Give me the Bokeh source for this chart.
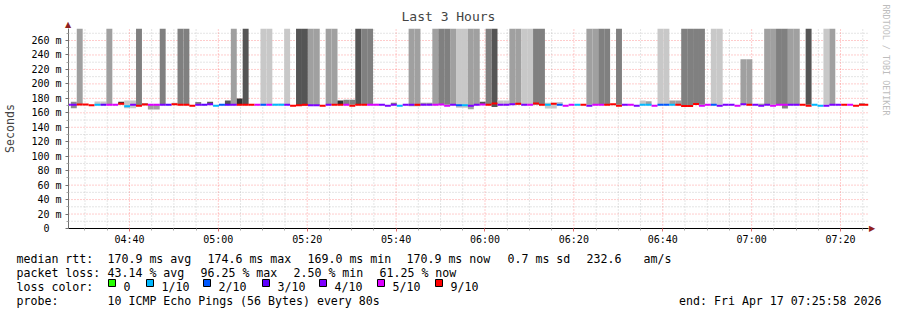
from bokeh.plotting import figure
from bokeh.models import Range1d, FixedTicker, Title, ColumnDataSource
from bokeh.layouts import column
from bokeh.core.properties import value
from bokeh.embed import file_html
from bokeh.resources import INLINE

# ---------------- data ----------------
STEP_START = 25.483        # left edge of first 80 s step (minutes after 04:00)
STEP_LEN = 80 / 60.0
WINDOW_START = 26.29       # graph window, minutes after 04:00
WINDOW_END = 206.29
GRAPH_TOP = 276.6          # upper limit of the graph (ms)

MEDIAN = [171.2, 171.0, 171.4, 171.6, 170.4, 171.0, 171.0, 171.0, 171.0, 172.4,
          169.2, 171.0, 169.6, 171.6, 171.0, 171.0, 171.0, 171.0, 172.0, 171.0,
          171.0, 169.6, 171.0, 171.0, 172.0, 169.8, 171.0, 171.0, 171.0, 171.0,
          171.0, 171.0, 171.0, 171.0, 171.0, 171.0, 171.0, 171.0, 169.8, 170.6,
          171.0, 170.6, 170.6, 169.8, 171.0, 171.0, 171.0, 171.0, 169.8, 171.0,
          171.0, 171.0, 171.0, 171.0, 169.8, 171.0, 169.8, 171.0, 171.0, 171.0,
          171.0, 171.0, 171.0, 171.6, 169.8, 171.0, 170.4, 170.4, 169.8, 171.0,
          171.6, 171.0, 173.0, 171.0, 171.0, 172.0, 172.6, 171.0, 171.0, 173.0,
          171.0, 171.0, 172.6, 171.0, 169.8, 171.0, 171.0, 171.0, 169.8, 171.0,
          171.0, 171.0, 172.0, 169.8, 171.0, 171.0, 169.8, 171.0, 171.0, 169.8,
          171.0, 171.0, 171.0, 171.0, 169.3, 169.3, 172.2, 169.8, 171.0, 171.0,
          169.8, 171.0, 171.0, 169.8, 172.0, 171.0, 171.0, 169.8, 171.0, 169.8,
          171.0, 171.0, 171.0, 171.0, 171.0, 169.8, 171.0, 169.8, 169.8, 171.0,
          171.0, 171.0, 171.0, 169.8, 171.0, 171.0]

LOSS = [4, 4, 9, 9, 9, 1, 3, 5, 5, 9,
        1, 4, 9, 9, 5, 5, 4, 3, 9, 9,
        9, 9, 4, 3, 4, 1, 2, 3, 4, 9,
        9, 9, 5, 2, 5, 1, 1, 4, 9, 9,
        9, 4, 4, 9, 4, 9, 9, 5, 9, 9,
        9, 5, 5, 4, 4, 4, 1, 4, 4, 9,
        4, 4, 5, 5, 5, 4, 2, 1, 4, 4,
        5, 9, 9, 4, 4, 4, 9, 4, 5, 9,
        9, 1, 9, 2, 5, 5, 1, 9, 4, 5,
        5, 9, 9, 9, 4, 5, 4, 1, 1, 5,
        2, 2, 1, 9, 9, 9, 9, 5, 5, 2,
        4, 4, 4, 5, 4, 9, 4, 4, 4, 5,
        5, 5, 4, 4, 9, 9, 1, 1, 4, 4,
        4, 9, 5, 9, 9, 9]

T = 400.0  # pings far above the graph's top
SMOKE_LO = [None, 166.4, 171.0, None, None, 171.0, 171.0, 171.0, None, 172.0,
            166.4, 166.4, 169.6, 171.0, 164.6, 164.6, 171.0, 171.0, 171.0, 171.0,
            171.0, None, 171.0, None, 171.0, None, None, 171.0, 171.0, 171.0,
            171.0, None, None, 171.0, 171.0, 171.0, 171.0, 171.0, None, 170.0,
            170.0, 170.0, 170.0, None, 171.0, 171.0, 171.0, 171.0, 171.0, 171.0,
            171.0, 171.0, 171.0, None, None, 171.0, None, None, 169.0, 169.0,
            171.0, 171.0, 171.0, 171.0, 171.0, 171.0, 167.0, 167.0, 165.0, 171.0,
            171.0, 171.0, 168.0, 171.0, 171.0, 171.0, 171.0, 171.0, 171.0, 171.0,
            171.0, 166.0, 166.0, 171.0, None, None, None, None, 171.0, 171.0,
            171.0, 171.0, None, 171.0, None, None, None, 171.0, 171.0, None,
            171.0, 171.0, 171.0, 171.0, 168.0, 168.0, 171.0, 171.0, None, 171.0,
            171.0, None, None, None, 171.0, 171.0, None, 171.0, 171.0, 171.0,
            171.0, 166.0, 171.0, 171.0, None, 171.0, None, None, 171.0, 171.0,
            None, None, None, None, 171.0, None]

SMOKE_HI = [None, 175.2, T, None, None, 175.5, 175.5, T, None, 175.2,
            177.0, 177.0, T, 173.0, 171.0, 171.0, T, 172.0, 174.0, T,
            T, None, 175.0, None, 175.2, None, None, 177.0, T, 179.8,
            T, None, None, T, T, 172.5, 172.5, T, None, T,
            T, T, T, None, T, T, 177.0, 178.0, 178.0, T,
            T, T, 172.5, None, None, 174.0, None, None, T, T,
            174.0, 174.0, T, T, T, T, T, T, T, T,
            175.2, T, T, 177.0, 177.0, T, T, T, T, T,
            T, 174.0, 174.0, 175.0, None, None, None, None, T, T,
            T, T, None, T, None, None, None, 177.0, 176.0, None,
            T, T, 177.0, 177.0, T, T, T, T, None, T,
            T, None, None, None, 234.0, 234.0, None, 172.5, T, T,
            T, T, T, T, None, T, None, None, T, T,
            None, None, None, None, 173.0, None]

SMOKE_SHADE = [None, "#8c8c8c", "#a0a0a0", None, None, "#c8c8c8", "#c8c8c8", "#a0a0a0", None, "#333333",
               "#c8c8c8", "#c8c8c8", "#808080", "#555555", "#a0a0a0", "#a0a0a0", "#808080", "#a0a0a0", "#c8c8c8", "#808080",
               "#808080", None, "#808080", None, "#555555", None, None, "#555555", "#a0a0a0", "#333333",
               "#555555", None, None, "#c8c8c8", "#c8c8c8", "#c8c8c8", "#a0a0a0", "#c8c8c8", None, "#555555",
               "#555555", "#a0a0a0", "#a0a0a0", None, "#a0a0a0", "#a0a0a0", "#333333", "#808080", "#808080", "#555555",
               "#808080", "#808080", "#c8c8c8", None, None, "#808080", None, None, "#a0a0a0", "#a0a0a0",
               "#a0a0a0", "#a0a0a0", "#a0a0a0", "#808080", "#808080", "#a0a0a0", "#c8c8c8", "#c8c8c8", "#a0a0a0", "#a0a0a0",
               "#555555", "#808080", "#555555", "#c8c8c8", "#c8c8c8", "#a0a0a0", "#a0a0a0", "#c8c8c8", "#c8c8c8", "#808080",
               "#808080", "#c8c8c8", "#c8c8c8", "#c8c8c8", None, None, None, None, "#a0a0a0", "#a0a0a0",
               "#808080", "#808080", None, "#808080", None, None, None, "#c8c8c8", "#a0a0a0", None,
               "#c8c8c8", "#c8c8c8", "#a0a0a0", "#a0a0a0", "#808080", "#808080", "#808080", "#808080", None, "#c8c8c8",
               "#c8c8c8", None, None, None, "#a0a0a0", "#a0a0a0", None, "#808080", "#a0a0a0", "#a0a0a0",
               "#808080", "#808080", "#a0a0a0", "#a0a0a0", None, "#555555", None, None, "#c8c8c8", "#a0a0a0",
               None, None, None, None, "#555555", None]

LOSS_COLORS = {0: "#26ff00", 1: "#00b8ff", 2: "#0059ff", 3: "#5e00ff",
               4: "#7e00ff", 5: "#dd00ff", 9: "#ff0000"}
LEGEND_LEVELS = [0, 1, 2, 3, 4, 5, 9]
LEGEND_LABELS = ["0", "1/10", "2/10", "3/10", "4/10", "5/10", "9/10"]

X_TICKS = [40, 60, 80, 100, 120, 140, 160, 180, 200]
X_TICK_LABELS = ["04:40", "05:00", "05:20", "05:40", "06:00", "06:20", "06:40", "07:00", "07:20"]
X_MINOR = [30, 35, 45, 50, 55, 65, 70, 75, 85, 90, 95, 105, 110, 115, 125, 130, 135,
           145, 150, 155, 165, 170, 175, 185, 190, 195, 205]
Y_TICKS = [0, 20, 40, 60, 80, 100, 120, 140, 160, 180, 200, 220, 240, 260]
Y_TICK_LABELS = ["0\u00a0\u00a0", "20 m", "40 m", "60 m", "80 m", "100 m", "120 m", "140 m",
                 "160 m", "180 m", "200 m", "220 m", "240 m", "260 m"]
Y_MINOR = [10, 30, 50, 70, 90, 110, 130, 150, 170, 190, 210, 230, 250, 270]

RTT_STATS = ["170.9 ms avg", "174.6 ms max", "169.0 ms min", "170.9 ms now", "0.7 ms sd", "232.6", "am/s"]
LOSS_STATS = ["43.14 % avg", "96.25 % max", "2.50 % min", "61.25 % now"]
PROBE_TEXT = "10 ICMP Echo Pings (56 Bytes) every 80s"
END_TEXT = "end: Fri Apr 17 07:25:58 2026"

# ---------------- geometry (canvas pixels) ----------------
W = 897
MAIN_H = 248
FL, FR, FT, FB = 67, 868, 28, 228
ARROW_COLOR = "#902020"

p = figure(width=W, height=MAIN_H, x_range=Range1d(WINDOW_START, WINDOW_END),
           y_range=Range1d(0, GRAPH_TOP), output_backend="svg", toolbar_location=None,
           min_border_left=FL, min_border_right=W - FR, min_border_top=FT,
           min_border_bottom=MAIN_H - FB, frame_align=False)
p.outline_line_color = None
p.background_fill_color = "white"
p.border_fill_color = "white"
p.grid.visible = False

# arrow heads at the axis ends (placed in the side panels, next to the frame)
up_arrow = Title(text="\u25b2", text_font="DejaVu Sans", text_font_size="8px",
                 text_font_style="normal", text_color=ARROW_COLOR, align="left",
                 offset=-3.5, standoff=-1)
p.add_layout(up_arrow, "above")
right_arrow = Title(text="\u25b2", text_font="DejaVu Sans", text_font_size="8px",
                    text_font_style="normal", text_color=ARROW_COLOR, align="right",
                    offset=-3.5, standoff=-2)
p.add_layout(right_arrow, "right")

p.title.text = "Last 3 Hours"
p.title.text_font = "DejaVu Sans Mono"
p.title.text_font_size = "13px"
p.title.text_font_style = "normal"
p.title.align = "left"
p.title.offset = 400 - FL
p.title.standoff = -11

wm = Title(text="RRDTOOL / TOBI OETIKER", text_font="DejaVu Sans Mono", text_font_size="8.4px",
           text_font_style="normal", text_color="#bdbdbd", align="left", offset=-24, standoff=6.7)
p.add_layout(wm, "right")

xax = p.xaxis[0]
yax = p.yaxis[0]
xax.ticker = FixedTicker(ticks=X_TICKS, minor_ticks=X_MINOR)
yax.ticker = FixedTicker(ticks=Y_TICKS, minor_ticks=Y_MINOR)
xax.major_label_overrides = {t: l for t, l in zip(X_TICKS, X_TICK_LABELS)}
yax.major_label_overrides = {t: l for t, l in zip(Y_TICKS, Y_TICK_LABELS)}
for ax in (xax, yax):
    ax.major_label_text_font = "DejaVu Sans Mono"
    ax.major_label_text_font_size = "10px"
    ax.major_label_text_color = "#000000"
    ax.major_tick_in = 0
    ax.minor_tick_in = 0
    ax.major_tick_out = 3
    ax.minor_tick_out = 2
xax.axis_line_color = "#000000"
xax.major_tick_line_color = "#e07070"
xax.minor_tick_line_color = "#a8a8a8"
xax.major_label_standoff = 2
yax.axis_line_color = "#707070"
yax.major_tick_line_color = "#707070"
yax.minor_tick_line_color = "#a8a8a8"
yax.major_label_standoff = 4
yax.axis_label = "Seconds"
yax.axis_label_text_font = "DejaVu Sans Mono"
yax.axis_label_text_font_size = "11.6px"
yax.axis_label_text_font_style = "normal"
yax.axis_label_standoff = 11

# grid (dotted)
p.segment(x0=X_MINOR, x1=X_MINOR, y0=0, y1=GRAPH_TOP, line_color="#a0a0a0", line_alpha=0.55,
          line_dash="1 2", line_width=1)
p.segment(x0=WINDOW_START, x1=WINDOW_END, y0=Y_MINOR, y1=Y_MINOR, line_color="#a0a0a0",
          line_alpha=0.55, line_dash="1 2", line_width=1)
p.segment(x0=X_TICKS, x1=X_TICKS, y0=0, y1=GRAPH_TOP, line_color="#ff0000", line_alpha=0.4,
          line_dash="1 2", line_width=1)
p.segment(x0=WINDOW_START, x1=WINDOW_END, y0=Y_TICKS[1:], y1=Y_TICKS[1:], line_color="#ff0000",
          line_alpha=0.4, line_dash="1 2", line_width=1)

# smoke
n = len(MEDIAN)
left = [max(STEP_START + i * STEP_LEN, WINDOW_START) for i in range(n)]
right = [min(STEP_START + (i + 1) * STEP_LEN, WINDOW_END) for i in range(n)]
idx = [i for i in range(n) if SMOKE_LO[i] is not None]
smoke = ColumnDataSource(dict(
    left=[left[i] for i in idx], right=[right[i] for i in idx],
    bottom=[SMOKE_LO[i] for i in idx], top=[min(SMOKE_HI[i], GRAPH_TOP) for i in idx],
    color=[SMOKE_SHADE[i] for i in idx]))
p.quad(left="left", right="right", bottom="bottom", top="top", fill_color="color",
       line_color=None, source=smoke)

# median, coloured by loss
med = ColumnDataSource(dict(x0=left, x1=right, y=MEDIAN, color=[LOSS_COLORS[l] for l in LOSS]))
p.segment(x0="x0", x1="x1", y0="y", y1="y", line_color="color", line_width=2,
          line_cap="butt", source=med)

# ---------------- legend panel ----------------
LEG_TOP = MAIN_H
leg = figure(width=W, height=310 - LEG_TOP, x_range=Range1d(0, W), y_range=Range1d(310, LEG_TOP),
             output_backend="svg", toolbar_location=None, min_border=0,
             min_border_left=0, min_border_right=0, min_border_top=0, min_border_bottom=0,
             x_axis_location=None, y_axis_location=None, frame_align=False)
leg.outline_line_color = None
leg.grid.visible = False
leg.background_fill_color = "white"
leg.border_fill_color = "white"

FONT = value("DejaVu Sans Mono")
FSIZE = value("11.6px")


def txt(xs, y, texts, align="left"):
    leg.text(x=xs, y=[y] * len(xs), text=texts, text_font=FONT, text_font_size=FSIZE,
             text_align=align, text_baseline="alphabetic", text_color="#000000")


txt([16, 107, 207, 307, 406, 507, 586, 643], 258, ["median rtt:"] + RTT_STATS)
txt([16, 107, 200, 293, 379], 272, ["packet loss:"] + LOSS_STATS)
sq_x = [108, 146, 203, 262, 319, 377, 435]
txt([16] + [x + 15 for x in sq_x], 286, ["loss color:"] + LEGEND_LABELS)
leg.quad(left=sq_x, right=[x + 7 for x in sq_x], top=[279] * 7, bottom=[286] * 7,
         fill_color=[LOSS_COLORS[l] for l in LEGEND_LEVELS], line_color="#000000", line_width=1)
txt([16, 107], 300, ["probe:", PROBE_TEXT])
txt([881], 300, [END_TEXT], align="right")

layout = column(p, leg, spacing=0)
open("out.html", "w").write(file_html(layout, INLINE))
